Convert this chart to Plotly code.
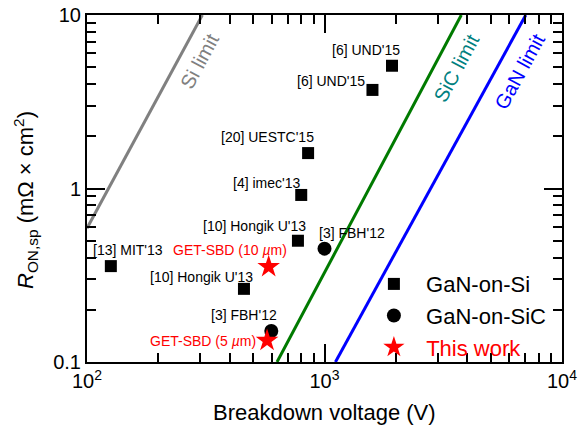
import numpy as np
import plotly.graph_objects as go

# ---------------- data ----------------
gan_si_v = [1924, 1592, 853, 798, 773, 126, 458]
gan_si_r = [5.1, 3.70, 1.60, 0.918, 0.50, 0.357, 0.264]
gan_si_labels = ["[6] UND'15", "[6] UND'15", "[20] UESTC'15", "[4] imec'13",
                 "[10] Hongik U'13", "[13] MIT'13", "[10] Hongik U'13"]

gan_sic_v = [1000, 597]
gan_sic_r = [0.45, 0.151]
gan_sic_labels = ["[3] FBH'12", "[3] FBH'12"]

this_v = [582, 573]
this_r = [0.354, 0.133]
this_labels = ["GET-SBD (10 <i>µ</i>m)", "GET-SBD (5 <i>µ</i>m)"]

si_lim_v = [100, 306]
si_lim_r = [0.59, 10]
sic_lim_v = [631, 3767]
sic_lim_r = [0.1, 10]
gan_lim_v = [1112, 7039]
gan_lim_r = [0.1, 10]

x_tick_vals = [100, 1000, 10000]
x_tick_text = ["10<sup>2</sup>", "10<sup>3</sup>", "10<sup>4</sup>"]
x_minor_vals = [200, 300, 400, 500, 600, 700, 800, 900,
                2000, 3000, 4000, 5000, 6000, 7000, 8000, 9000]
y_tick_vals = [0.1, 1, 10]
y_tick_text = ["0.1", "1", "10"]
y_minor_vals = [0.2, 0.3, 0.4, 0.5, 0.6, 0.7, 0.8, 0.9, 2, 3, 4, 5, 6, 7, 8, 9]

x_range_log = [2, 4]
y_range_log = [-1, 1]

# label offsets in pixels (dx, dy up) relative to each point
gan_si_off = [(-26, 16), (-41, 9), (-41, 16), (-35, 12), (-43, 15), (17, 16), (-42, 12)]
gan_sic_off = [(27, 16), (-27, 16)]
this_off = [(-39, 17), (-64, 0)]

FONT = "Arial"
W, H = 581, 427
ML, MR, MT, MB = 87, 19, 15, 65
PW, PH = W - ML - MR, H - MT - MB

fig = go.Figure()

for v, r, c in [(si_lim_v, si_lim_r, "#808080"), (sic_lim_v, sic_lim_r, "#007a00"),
                (gan_lim_v, gan_lim_r, "#0000ff")]:
    fig.add_trace(go.Scatter(x=v, y=r, mode="lines", line=dict(color=c, width=3),
                             showlegend=False))

fig.add_trace(go.Scatter(x=gan_si_v, y=gan_si_r, mode="markers",
                         name="&nbsp;&nbsp;GaN-on-Si",
                         marker=dict(symbol="square", size=12, color="black")))
fig.add_trace(go.Scatter(x=gan_sic_v, y=gan_sic_r, mode="markers",
                         name="&nbsp;&nbsp;GaN-on-SiC",
                         marker=dict(symbol="circle", size=14, color="black")))
fig.add_trace(go.Scatter(x=this_v, y=this_r, mode="markers",
                         name="&nbsp;&nbsp;<span style='color:#ff0000'>This work</span>",
                         marker=dict(symbol="star", size=17, color="#ff0000")))

anns = []
for vs, rs, labs, offs, col in [(gan_si_v, gan_si_r, gan_si_labels, gan_si_off, "black"),
                                (gan_sic_v, gan_sic_r, gan_sic_labels, gan_sic_off, "black"),
                                (this_v, this_r, this_labels, this_off, "#ff0000")]:
    for v, r, lab, (dx, dy) in zip(vs, rs, labs, offs):
        anns.append(dict(x=np.log10(v), y=np.log10(r), xref="x", yref="y", text=lab,
                         showarrow=False, xshift=dx, yshift=dy,
                         font=dict(size=14, color=col, family=FONT)))

for txt, lx, ly, ang, col in [("Si limit", 2.4748, 0.7349, -61.7, "#808080"),
                              ("SiC limit", 3.5567, 0.6928, -61.9, "#008080"),
                              ("GaN limit", 3.8227, 0.6784, -61.3, "#0000ff")]:
    anns.append(dict(x=lx, y=ly, xref="x", yref="y", text=txt, showarrow=False,
                     textangle=ang, font=dict(size=20, color=col, family=FONT)))

# axis titles
anns.append(dict(x=(25 - ML) / PW, y=(H - MB - 200) / PH, xref="paper", yref="paper",
                 text="<i>R</i><sub>ON,sp</sub> (mΩ × cm<sup>2</sup>)", showarrow=False,
                 textangle=-90, xanchor="center", yanchor="middle",
                 font=dict(size=22, family=FONT, color="black")))
anns.append(dict(x=0.5, y=-(412 - (H - MB)) / PH, xref="paper", yref="paper",
                 text="Breakdown voltage (V)", showarrow=False,
                 xanchor="center", yanchor="middle",
                 font=dict(size=22, family=FONT, color="black")))

fig.update_layout(
    xaxis=dict(type="log", range=x_range_log, tickmode="array", tickvals=x_tick_vals,
               ticktext=x_tick_text, showline=True, linecolor="black", linewidth=2,
               mirror="ticks", ticks="inside", ticklen=18, tickwidth=2, tickcolor="black",
               minor=dict(tickmode="array", tickvals=x_minor_vals, ticks="inside",
                          ticklen=9, tickwidth=2, tickcolor="black", showgrid=False),
               showgrid=False, zeroline=False,
               tickfont=dict(size=20, color="black", family=FONT)),
    yaxis=dict(type="log", range=y_range_log, tickmode="array", tickvals=y_tick_vals,
               ticktext=y_tick_text, showline=True, linecolor="black", linewidth=2,
               mirror="ticks", ticks="inside", ticklen=18, tickwidth=2, tickcolor="black",
               minor=dict(tickmode="array", tickvals=y_minor_vals, ticks="inside",
                          ticklen=9, tickwidth=2, tickcolor="black", showgrid=False),
               showgrid=False, zeroline=False,
               tickfont=dict(size=20, color="black", family=FONT)),
    width=W, height=H,
    margin=dict(l=ML, r=MR, t=MT, b=MB, autoexpand=False),
    paper_bgcolor="white", plot_bgcolor="white",
    annotations=anns,
    legend=dict(x=0.604, y=0.285, xanchor="left", yanchor="top", bgcolor="rgba(0,0,0,0)",
                font=dict(size=22, family=FONT, color="black")),
    showlegend=True,
)

fig.write_html("out.html")
